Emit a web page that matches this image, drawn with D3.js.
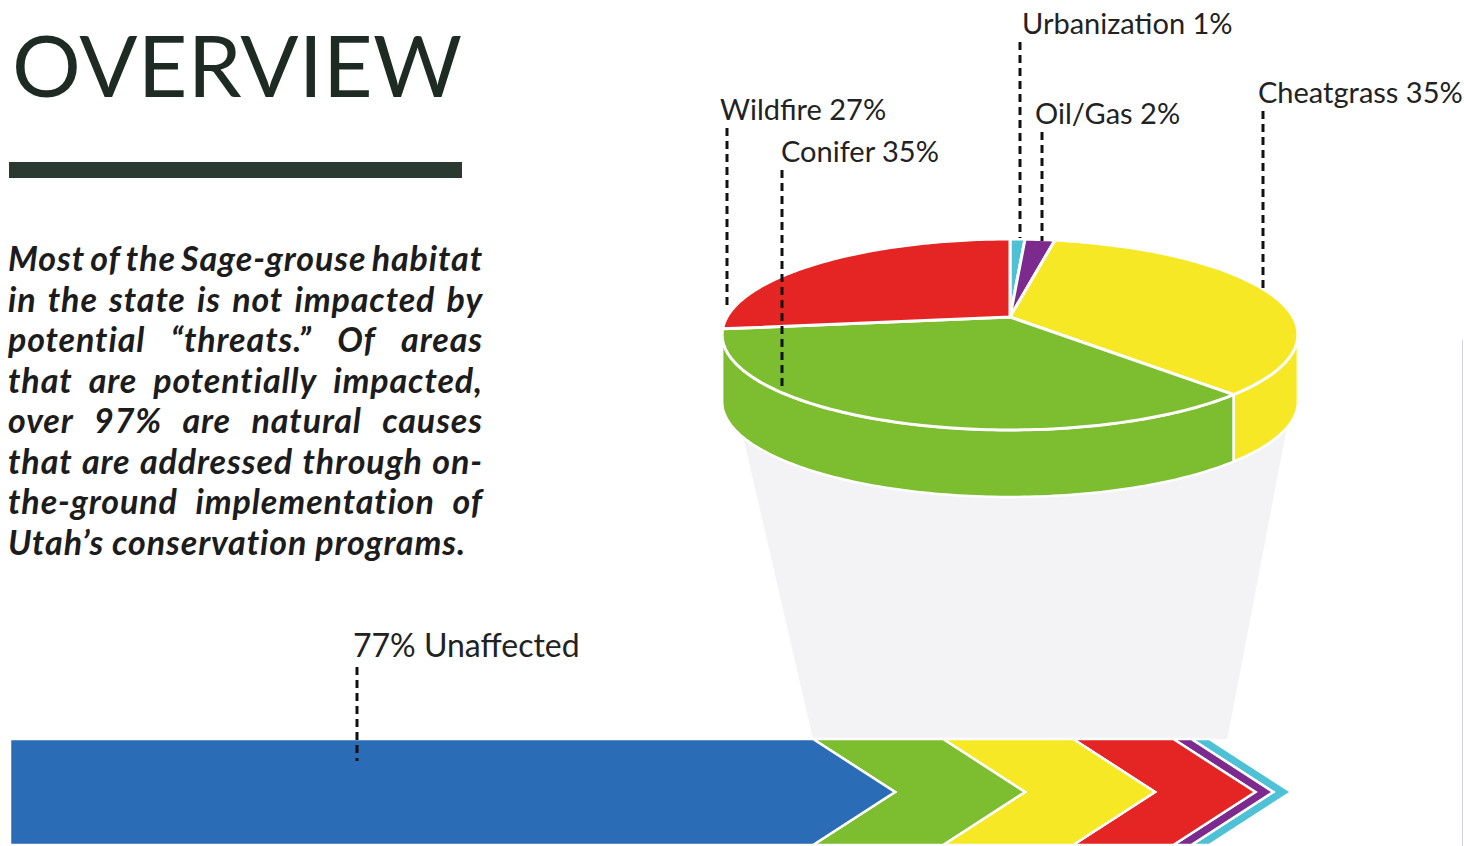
<!DOCTYPE html>
<html>
<head>
<meta charset="utf-8">
<script src="https://cdn.jsdelivr.net/npm/d3@7"></script>
<style>
  body { margin: 0; background: #fff; }
  svg { display: block; }
</style>
</head>
<body>
<script>
var W = 1464, H = 846;

// ---- data ----
var threats = ["Urbanization", "Oil/Gas", "Cheatgrass", "Conifer", "Wildfire"];
var threatPct = [1, 2, 35, 35, 27];
var threatColors = ["#4fc1d6", "#7c2a8d", "#f6e824", "#7dbe31", "#e52524"];
var unaffectedLabel = "Unaffected";
var unaffectedPct = 77;
var unaffectedColor = "#2a6cb6";
// order of the chevrons after the blue bar
var barOrder = ["Conifer", "Cheatgrass", "Wildfire", "Oil/Gas", "Urbanization"];

var titleText = "OVERVIEW";
var paraLines = [
    "Most of the Sage-grouse habitat",
    "in the state is not impacted by",
    "potential \u201Cthreats.\u201D Of areas",
    "that are potentially impacted,",
    "over 97% are natural causes",
    "that are addressed through on-",
    "the-ground implementation of",
    "Utah\u2019s conservation programs."
];

// label placement (text anchor point, leader line end)
var labelPos = {
    "Urbanization": {x: 1022, y: 34, lx: 1020, ly0: 42, ly1: 238},
    "Oil/Gas":      {x: 1035, y: 124, lx: 1042, ly0: 132, ly1: 241},
    "Cheatgrass":   {x: 1258, y: 103, lx: 1263, ly0: 111, ly1: 290},
    "Conifer":      {x: 781, y: 162, lx: 782, ly0: 170, ly1: 389},
    "Wildfire":     {x: 720, y: 120, lx: 727, ly0: 128, ly1: 309}
};

var threatData = threats.map(function(t, i) {
    return {name: t, value: threatPct[i], color: threatColors[i]};
});

var svg = d3.select("body").append("svg")
    .attr("width", W)
    .attr("height", H);

// ---- title & text ----
svg.append("text")
    .attr("x", 12)
    .attr("y", 97)
    .attr("textLength", 450)
    .attr("lengthAdjust", "spacing")
    .style("font-family", "Lato")
    .style("font-size", "86px")
    .style("fill", "#1e2a24")
    .text(titleText);

svg.append("rect")
    .attr("x", 9)
    .attr("y", 162)
    .attr("width", 453)
    .attr("height", 16)
    .attr("fill", "#2b3a31");

var para = svg.append("g")
    .style("font-family", "Lato")
    .style("font-style", "italic")
    .style("font-weight", 700)
    .style("font-size", "34px")
    .style("letter-spacing", "0.9px")
    .style("fill", "#1c1c1c");

var paraLeft = 8, paraRight = 483, paraTop = 271, paraLh = 40.5;
paraLines.forEach(function(line, i) {
    var words = line.split(" ");
    var widths = words.map(function(w) {
        var t = para.append("text").text(w);
        var len = t.node().getComputedTextLength();
        t.remove();
        return len;
    });
    var last = i == paraLines.length - 1;
    var space = last ? 8 : (paraRight - paraLeft - d3.sum(widths)) / (words.length - 1);
    var x = paraLeft;
    var t = para.append("text").attr("y", paraTop + i * paraLh);
    words.forEach(function(w, j) {
        t.append("tspan").attr("x", x).text(w);
        x += widths[j] + space;
    });
});

// ---- funnel shading ----
var barTop = 739, barBottom = 845, tipDepth = 82;
var barMid = (barTop + barBottom) / 2;

var xU = d3.scaleLinear().domain([0, unaffectedPct]).range([10, 813]);
var wT = d3.scaleLinear().domain([0, 35]).range([0, 130]);
var minW = 18;

var segs = [{name: unaffectedLabel, x0: xU(0), x1: xU(unaffectedPct), color: unaffectedColor, first: true}];
var cursor = xU(unaffectedPct);
barOrder.forEach(function(name) {
    var d = threatData.find(function(t) { return t.name == name; });
    var w = Math.max(wT(d.value), minW);
    segs.push({name: name, x0: cursor, x1: cursor + w, color: d.color});
    cursor += w;
});

svg.append("polygon")
    .attr("points", [[730, 380], [1296, 380], [cursor + 18, barTop], [xU(unaffectedPct), barTop]].join(" "))
    .attr("fill", "#f3f3f6");

// ---- 3D pie ----
var P = {cx: 1010, cy: 317, A: 283, B: 92.3, k: 0.183, depth: 67};
function proj(t, dy) {
    var u = Math.sin(t), v = -Math.cos(t), s = 1 / (1 - P.k * v);
    return [P.cx + P.A * u * s, P.cy + P.B * v * s + (dy || 0)];
}
function rim(a0, a1, dy) {
    var n = Math.max(2, Math.ceil((a1 - a0) / (Math.PI / 180)));
    return d3.range(n + 1).map(function(i) { return proj(a0 + (a1 - a0) * i / n, dy); });
}

var arcs = d3.pie().sort(null).value(function(d) { return d.value; })(threatData);

var frontR = Math.acos(-P.k), frontL = 2 * Math.PI - frontR;

var walls = svg.append("g");
arcs.forEach(function(a) {
    var t0 = Math.max(a.startAngle, frontR), t1 = Math.min(a.endAngle, frontL);
    if (t1 <= t0) return;
    var pts = rim(t0, t1, 0).concat(rim(t0, t1, P.depth).reverse());
    walls.append("path")
        .attr("d", d3.line()(pts) + "Z")
        .attr("fill", a.data.color)
        .attr("stroke", "#fff")
        .attr("stroke-width", 2.5)
        .attr("stroke-linejoin", "round");
});

var tops = svg.append("g");
arcs.forEach(function(a) {
    var pts = [[P.cx, P.cy]].concat(rim(a.startAngle, a.endAngle, 0));
    tops.append("path")
        .attr("d", d3.line()(pts) + "Z")
        .attr("fill", a.data.color)
        .attr("stroke", "#fff")
        .attr("stroke-width", 3)
        .attr("stroke-linejoin", "round");
});

// ---- chevron bar ----
function chevron(s) {
    var pts = [[s.x0, barTop], [s.x1, barTop], [s.x1 + tipDepth, barMid], [s.x1, barBottom], [s.x0, barBottom]];
    if (!s.first) pts.push([s.x0 + tipDepth, barMid]);
    return d3.line()(pts) + "Z";
}
svg.append("g").selectAll("path")
    .data(segs.slice().reverse())
    .enter()
    .append("path")
    .attr("d", chevron)
    .attr("fill", function(d) { return d.color; })
    .attr("stroke", "#fff")
    .attr("stroke-width", 2.5)
    .attr("stroke-linejoin", "miter");

// ---- labels & leaders ----
var labels = svg.append("g")
    .style("font-family", "Lato")
    .style("font-size", "29px")
    .style("fill", "#222");

threatData.forEach(function(d) {
    var p = labelPos[d.name];
    labels.append("text")
        .attr("x", p.x)
        .attr("y", p.y)
        .text(d.name + " " + d.value + "%");
    svg.append("line")
        .attr("x1", p.lx).attr("x2", p.lx)
        .attr("y1", p.ly0).attr("y2", p.ly1)
        .attr("stroke", "#111")
        .attr("stroke-width", 3)
        .attr("stroke-dasharray", "8,5");
});

labels.append("text")
    .attr("x", 353)
    .attr("y", 657)
    .style("font-size", "32px")
    .text(unaffectedPct + "% " + unaffectedLabel);
svg.append("line")
    .attr("x1", 357).attr("x2", 357)
    .attr("y1", 667).attr("y2", 761)
    .attr("stroke", "#111")
    .attr("stroke-width", 3)
    .attr("stroke-dasharray", "8,5");

// faint page edge on the right
svg.append("line")
    .attr("x1", 1462.5).attr("x2", 1462.5)
    .attr("y1", 340).attr("y2", H)
    .attr("stroke", "#d4d4d8")
    .attr("stroke-width", 1);
</script>
</body>
</html>
